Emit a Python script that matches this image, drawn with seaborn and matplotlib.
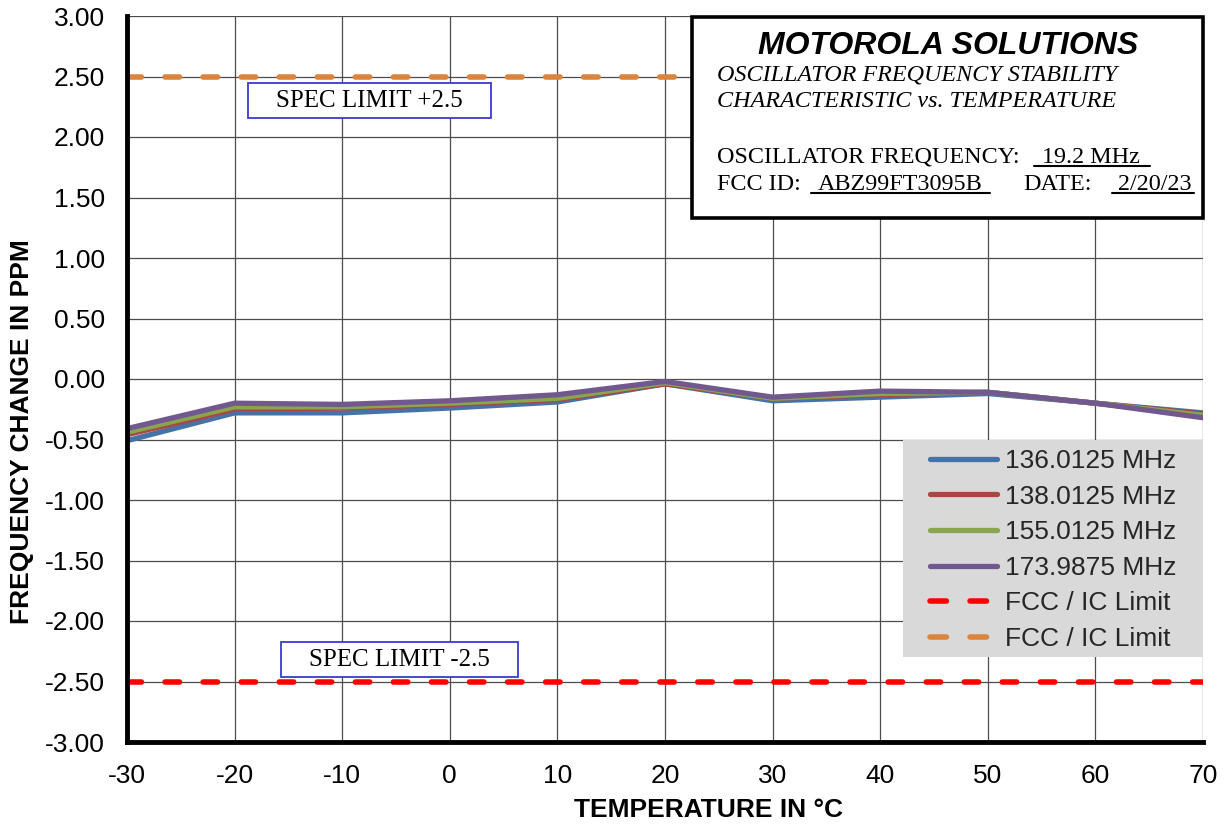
import matplotlib
matplotlib.use("Agg")
import matplotlib.pyplot as plt
import seaborn as sns
import pandas as pd
from matplotlib.patches import Rectangle
from matplotlib.lines import Line2D
from matplotlib.transforms import IdentityTransform

# ---------------- data ----------------
temps = [-30, -20, -10, 0, 10, 20, 30, 40, 50, 60, 70]
f136 = [-0.51, -0.28, -0.28, -0.24, -0.19, -0.04, -0.18, -0.15, -0.12, -0.20, -0.28]
f138 = [-0.46, -0.25, -0.24, -0.21, -0.17, -0.04, -0.16, -0.13, -0.11, -0.20, -0.29]
f155 = [-0.44, -0.23, -0.23, -0.20, -0.16, -0.03, -0.16, -0.12, -0.11, -0.20, -0.30]
f174 = [-0.41, -0.20, -0.21, -0.18, -0.13, -0.02, -0.15, -0.10, -0.11, -0.20, -0.32]
series_names = ["136.0125 MHz", "138.0125 MHz", "155.0125 MHz", "173.9875 MHz"]
lower_limit = -2.5
upper_limit = 2.5
limit_label = "FCC / IC Limit"
yticks = [-3.0, -2.5, -2.0, -1.5, -1.0, -0.5, 0.0, 0.5, 1.0, 1.5, 2.0, 2.5, 3.0]
xticks = [-30, -20, -10, 0, 10, 20, 30, 40, 50, 60, 70]

colors = ["#4572A7", "#AA4643", "#89A54E", "#71588F"]
red_lim = "#FF0000"
orange_lim = "#DB843D"
LIM_LW = 4.0
DASH = (0, (2.6, 4.25))
LEG_DASH = (0, (2.96, 4.25))

# ---------------- figure ----------------
sns.set_theme(style="white")
plt.rcParams["font.family"] = ["Liberation Sans", "DejaVu Sans"]

W, H = 1227, 827
fig = plt.figure(figsize=(W / 100, H / 100), dpi=100)
ax = fig.add_axes([127 / W, 1 - 742 / H, (1203 - 127) / W, (742 - 16) / H])

df = pd.DataFrame({
    "temp": temps * 4,
    "ppm": f136 + f138 + f155 + f174,
    "series": sum([[n] * len(temps) for n in series_names], []),
})

for name, col in zip(series_names, colors):
    sub = df[df["series"] == name]
    sns.lineplot(data=sub, x="temp", y="ppm", color=col, linewidth=3.8,
                 ax=ax, zorder=3, solid_capstyle="round", solid_joinstyle="round")

lim_df = pd.DataFrame({"temp": temps,
                       "low": [lower_limit] * len(temps),
                       "high": [upper_limit] * len(temps)})
sns.lineplot(data=lim_df, x="temp", y="low", color=red_lim, linewidth=LIM_LW,
             linestyle=DASH, dash_capstyle="round", ax=ax, zorder=3)
sns.lineplot(data=lim_df, x="temp", y="high", color=orange_lim, linewidth=LIM_LW,
             linestyle=DASH, dash_capstyle="round", ax=ax, zorder=3)

ax.set_xlim(-30, 70)
ax.set_ylim(-3, 3)
ax.set_xticks(xticks)
ax.set_xticklabels([f"{t:d}" for t in xticks])
ax.set_yticks(yticks)
ax.set_yticklabels([f"{v:.2f}" for v in yticks])
ax.tick_params(axis="both", length=0, labelsize=19, colors="black")
ax.tick_params(axis="y", pad=16)
ax.tick_params(axis="x", pad=16)
ax.grid(True, color="#4d4d4d", linewidth=0.9, zorder=0)
ax.set_axisbelow(True)
for s in ["top", "right"]:
    ax.spines[s].set_visible(False)
for s in ["left", "bottom"]:
    ax.spines[s].set_color("black")
    ax.spines[s].set_linewidth(3.5)
    ax.spines[s].set_zorder(4)

ax.set_xlabel("TEMPERATURE IN °C", fontsize=19, fontweight="bold", color="black")
ax.set_ylabel("FREQUENCY CHANGE IN PPM", fontsize=19, fontweight="bold", color="black")
ax.xaxis.set_label_coords((709 - 127) / 1076, -(810 - 742) / 726)
ax.yaxis.set_label_coords(-(127 - 22) / 1076, (742 - 432) / 726)
ax.xaxis.label.set_va("center")
ax.yaxis.label.set_va("center")

# legend background + legend
ax.add_patch(Rectangle(((903 - 127) / 1076, (742 - 657) / 726),
                       (1203 - 903) / 1076, (657 - 440) / 726,
                       transform=ax.transAxes, facecolor="#D9D9D9",
                       edgecolor="none", zorder=5))
handles = [Line2D([], [], color=c, lw=3.8, solid_capstyle="round") for c in colors]
handles += [Line2D([], [], color=red_lim, lw=LIM_LW, linestyle=LEG_DASH, dash_capstyle="round"),
            Line2D([], [], color=orange_lim, lw=LIM_LW, linestyle=LEG_DASH, dash_capstyle="round")]
labels = series_names + [limit_label, limit_label]
leg = ax.legend(handles, labels, loc="center",
                bbox_to_anchor=((1053 - 127) / 1076, (742 - 550) / 726),
                fontsize=19, frameon=False, borderaxespad=0, borderpad=0,
                handlelength=2.55, handletextpad=0.3, labelspacing=0.44)
leg.set_zorder(6)

# title box
def P(x, y):
    return (x / W, 1 - y / H)

box = Rectangle((0.525, 0.7218), 0.475, 0.2768, transform=ax.transAxes,
                facecolor="white", edgecolor="black", linewidth=2.6,
                zorder=7, clip_on=False)
ax.add_patch(box)

serif = ["Liberation Serif", "DejaVu Serif"]
tk = dict(transform=fig.transFigure, zorder=8, color="black")
fig.text(*P(948, 54), "MOTOROLA SOLUTIONS", ha="center", va="baseline",
         fontsize=23, fontweight="bold", fontstyle="italic", **tk)
fig.text(*P(717, 80), "OSCILLATOR FREQUENCY STABILITY", ha="left", va="baseline",
         fontsize=17.4, fontstyle="italic", family=serif, **tk)
fig.text(*P(717, 107), "CHARACTERISTIC vs. TEMPERATURE", ha="left", va="baseline",
         fontsize=17.4, fontstyle="italic", family=serif, **tk)
fig.text(*P(717, 163), "OSCILLATOR FREQUENCY:", ha="left", va="baseline",
         fontsize=17.4, family=serif, **tk)
t_freq = fig.text(*P(1042, 163), "19.2 MHz", ha="left", va="baseline",
                  fontsize=17.4, family=serif, **tk)
fig.text(*P(717, 190), "FCC ID:", ha="left", va="baseline",
         fontsize=17.4, family=serif, **tk)
t_id = fig.text(*P(818, 190), "ABZ99FT3095B", ha="left", va="baseline",
                fontsize=17.4, family=serif, **tk)
fig.text(*P(1023, 190), "DATE:", ha="left", va="baseline",
         fontsize=17.4, family=serif, **tk)
t_date = fig.text(*P(1118, 190), "2/20/23", ha="left", va="baseline",
                  fontsize=17.4, family=serif, **tk)

# spec limit labels
spec_hi = ax.text(-7.46, 2.30, "SPEC LIMIT +2.5", ha="center", va="center",
                  fontsize=18, family=serif, color="black", zorder=9)
spec_lo = ax.text(-4.7, -2.32, "SPEC LIMIT -2.5", ha="center", va="center",
                  fontsize=18, family=serif, color="black", zorder=9)

fig.canvas.draw()
r = fig.canvas.get_renderer()

for t, pad_l, pad_r, uy in [(t_freq, 8, 10, 166), (t_id, 7, 7, 193), (t_date, 6, 2, 193)]:
    bb = t.get_window_extent(r)
    y = H - uy
    fig.add_artist(Line2D([bb.x0 - pad_l, bb.x1 + pad_r], [y, y], transform=None,
                          color="black", lw=1.5, zorder=9))

for t in [spec_hi, spec_lo]:
    bb = t.get_window_extent(r)
    cx = (bb.x0 + bb.x1) / 2
    cy = (bb.y0 + bb.y1) / 2
    w = bb.width + 56
    h = 35
    rect = Rectangle((cx - w / 2, cy - h / 2), w, h, transform=IdentityTransform(),
                     facecolor="white", edgecolor="#3A3AD0", lw=1.3, zorder=8,
                     clip_on=False)
    ax.add_artist(rect)

fig.savefig("out.png", dpi=100)
